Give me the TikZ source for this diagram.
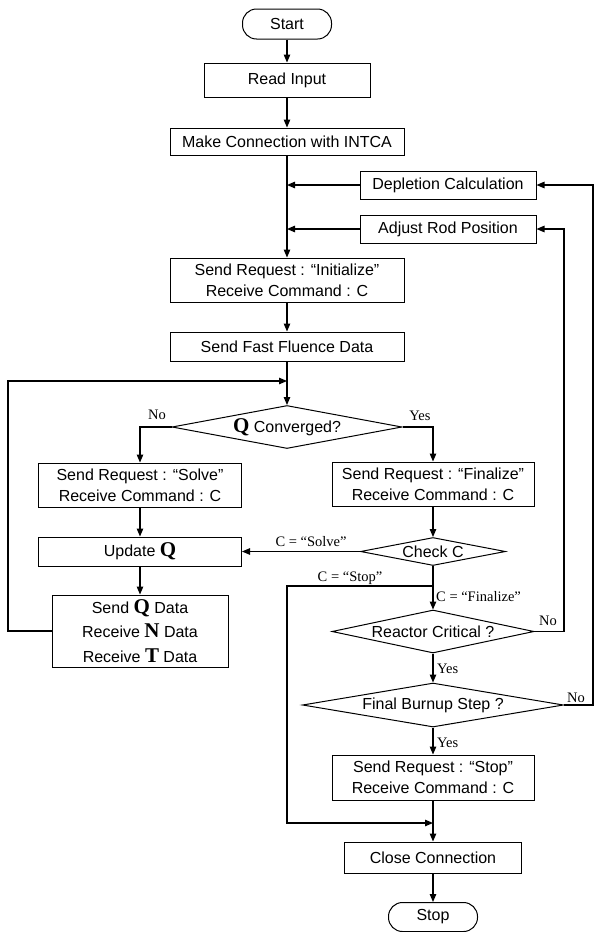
\documentclass[tikz,border=0pt]{standalone}
\usepackage{fontspec}
\setmainfont{Liberation Sans}
\newfontfamily\tnr{Liberation Serif}
\usetikzlibrary{arrows.meta,shapes.geometric}
\newcommand{\BQ}[1]{{\tnr\bfseries\fontsize{21}{21}\selectfont #1}}
\begin{document}
\begin{tikzpicture}[x=1pt,y=-1pt,
  every node/.style={font=\fontsize{16}{21}\selectfont},
  box/.style={draw, line width=1pt, inner sep=0pt, align=center},
  term/.style={box, rounded corners=14pt},
  dia/.style={draw, diamond, inner sep=0pt, line width=1pt},
  lab/.style={font=\tnr\fontsize{14.5}{16}\selectfont, inner sep=0pt},
  wire/.style={line width=1.2pt},
  arr/.style={wire, -{Triangle[length=8pt,width=6.5pt]}}]
\useasboundingbox (0,0) rectangle (596,932);

% nodes
\node[term, minimum width=89pt, minimum height=30pt] (start) at (287,24) {Start};
\node[box, minimum width=166pt, minimum height=34pt] (read) at (287,80) {Read Input};
\node[box, minimum width=234pt, minimum height=27pt] (conn) at (287,141.5) {Make Connection with INTCA};
\node[box, minimum width=176pt, minimum height=28pt] (depl) at (448,185) {Depletion Calculation};
\node[box, minimum width=176pt, minimum height=28pt] (adj) at (448,229) {Adjust Rod Position};
\node[box, minimum width=234pt, minimum height=44pt] (init) at (287,280) {Send Request : “Initialize”\\Receive Command : C};
\node[box, minimum width=234pt, minimum height=29pt] (fast) at (287,346.5) {Send Fast Fluence Data};
\node[dia, minimum width=230pt, minimum height=43pt, label={center:\BQ{Q} Converged?}] (qconv) at (287,427) {};
\node[box, minimum width=203pt, minimum height=44pt] (solve) at (140,485) {Send Request : “Solve”\\Receive Command : C};
\node[box, minimum width=202pt, minimum height=44pt] (fin) at (433,484) {Send Request : “Finalize”\\Receive Command : C};
\node[box, minimum width=203pt, minimum height=29pt] (upd) at (140,551.5) {Update \BQ{Q}};
\node[dia, minimum width=145pt, minimum height=28pt, label={center:Check C}] (chk) at (433,551.5) {};
\node[box, minimum width=176pt, minimum height=72pt, font=\fontsize{16}{24.5}\selectfont] (sendq) at (140,631) {Send \BQ{Q} Data\\Receive \BQ{N} Data\\Receive \BQ{T} Data};
\node[dia, minimum width=202pt, minimum height=43pt, label={center:Reactor Critical ?}] (react) at (433,631.5) {};
\node[dia, minimum width=261pt, minimum height=44pt, label={center:Final Burnup Step ?}] (final) at (433,705) {};
\node[box, minimum width=202pt, minimum height=45pt] (sstop) at (433,777.5) {Send Request : “Stop”\\Receive Command : C};
\node[box, minimum width=177pt, minimum height=31pt] (close) at (433,857.5) {Close Connection};
\node[term, minimum width=89pt, minimum height=29pt] (stop) at (433,917) {Stop};

% labels
\node[lab, anchor=base] (lno1) at (157,419) {No};
\node[lab, anchor=base] (lyes1) at (420,420) {Yes};
\node[lab, anchor=base] (lsolve) at (311,546) {C = “Solve”};
\node[lab, anchor=base] (lstop) at (350,581) {C = “Stop”};
\node[lab, anchor=base west] (lfin) at (436,601) {C = “Finalize”};
\node[lab, anchor=base] (lno2) at (548,625) {No};
\node[lab, anchor=base west] (lyes2) at (437,673) {Yes};
\node[lab, anchor=base] (lno3) at (576,702) {No};
\node[lab, anchor=base west] (lyes3) at (437,747) {Yes};

% coordinates
\coordinate (loopin) at (287,381);
\coordinate (lpc) at (8,381);
\coordinate (js) at (433,586);
\coordinate (stopc) at (287,823);
\coordinate (jc) at (433,823);
\coordinate (rc) at (564,229);
\coordinate (fc) at (593,185);

% connectors
\draw[arr] (start) -- (read);
\draw[arr] (read) -- (conn);
\draw[arr] (conn) -- (init);
\draw[arr] (depl.west) -- (depl.west -| init.north);
\draw[arr] (adj.west) -- (adj.west -| init.north);
\draw[arr] (init) -- (fast);
\draw[arr] (fast) -- (qconv);
\draw[arr] (sendq.west) -| (lpc) -- (loopin);
\draw[arr] (qconv.west) -| (solve.north);
\draw[arr] (qconv.east) -| (fin.north);
\draw[arr] (solve) -- (upd);
\draw[arr] (upd) -- (sendq);
\draw[arr] (fin) -- (chk);
\draw[arr] (chk.west) -- (chk.west -| upd.east);
\draw[arr] (chk) -- (react);
\draw[arr] (js) -| (stopc) -- (jc);
\draw[arr] (react.east) -| (rc) -- (adj.east);
\draw[arr] (final.east) -| (fc) -- (depl.east);
\draw[arr] (react) -- (final);
\draw[arr] (final) -- (sstop);
\draw[arr] (sstop) -- (close);
\draw[arr] (close) -- (stop);
\end{tikzpicture}
\end{document}
